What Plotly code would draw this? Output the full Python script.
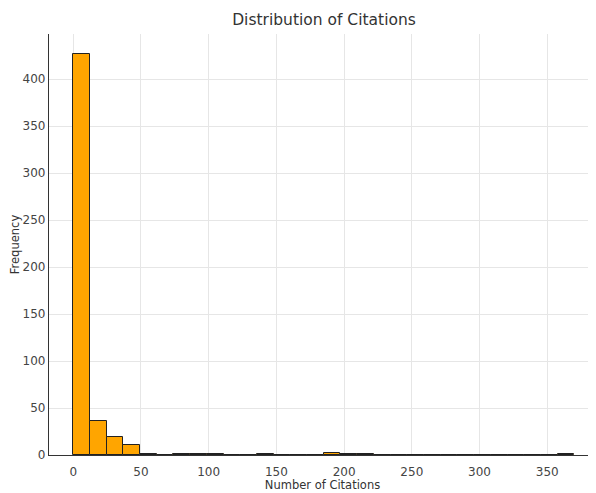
import numpy as np
import plotly.graph_objects as go

# Histogram: 30 bins spanning the citation range 0..370
bin_min = 0
bin_max = 370
n_bins = 30
counts = [427, 36, 19, 11, 1, 0, 1, 1, 1, 0,
          0, 1, 0, 0, 0, 2, 1, 1, 0, 0,
          0, 0, 0, 0, 0, 0, 0, 0, 0, 1]
x_ticks = [0, 50, 100, 150, 200, 250, 300, 350]
y_ticks = [0, 50, 100, 150, 200, 250, 300, 350, 400]

edges = np.linspace(bin_min, bin_max, n_bins + 1)
centers = (edges[:-1] + edges[1:]) / 2
widths = np.diff(edges)

fig = go.Figure(go.Bar(
    x=centers, y=counts, width=widths,
    marker=dict(color="#FFA500", line=dict(color="#222222", width=1)),
))

font = "DejaVu Sans"
# the page body adds an 8px offset, so margins are compensated
fig.update_layout(
    width=596, height=493,
    margin=dict(l=41, r=8, t=26, b=46, autoexpand=False),
    paper_bgcolor="white", plot_bgcolor="white",
    showlegend=False,
    title=dict(text="Distribution of Citations", x=316 / 596, xref="container",
               xanchor="center", y=1 - 12 / 493, yref="container", yanchor="middle",
               font=dict(family=font, size=15.5, color="#333333")),
    font=dict(family=font, size=12, color="#333333"),
    bargap=0,
)
fig.update_xaxes(
    range=[-17.9, 386], tickvals=x_ticks, showgrid=True,
    gridcolor="#e6e6e6", gridwidth=1,
    showline=True, linecolor="#333333", linewidth=1.2,
    ticks="", ticklabelstandoff=5,
    zeroline=False, automargin=False,
    title=dict(text="Number of Citations", font=dict(size=11.5, color="#333333"), standoff=3),
    tickfont=dict(size=12, color="#444444"),
)
fig.update_yaxes(
    range=[0, 448], tickvals=y_ticks, showgrid=True,
    gridcolor="#e6e6e6", gridwidth=1,
    showline=True, linecolor="#333333", linewidth=1.2,
    ticks="", ticklabelstandoff=0,
    zeroline=False, automargin=False,
    title=dict(text="Frequency", font=dict(size=11.5, color="#333333"), standoff=9),
    tickfont=dict(size=12, color="#444444"),
)
fig.write_html("out.html")
